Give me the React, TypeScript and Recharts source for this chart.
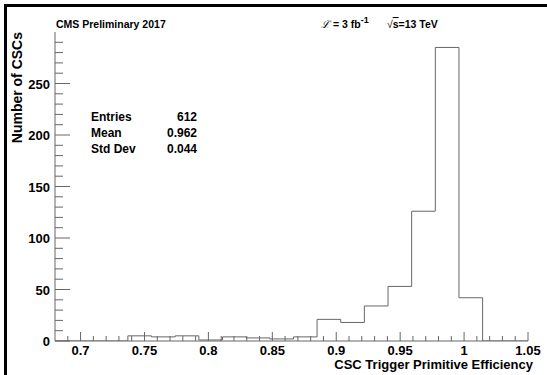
import React from "react";
import { ComposedChart, Line, XAxis, YAxis } from "recharts";

// histogram bins (left edges) and counts
const binEdges = [
  0.737, 0.7555, 0.774, 0.7925, 0.811, 0.8295, 0.848, 0.8665, 0.885, 0.9035,
  0.922, 0.9405, 0.959, 0.9775, 0.996, 1.0145,
];
const binCounts = [5, 4, 5, 1, 4, 3, 2, 4, 21, 18, 34, 53, 126, 285, 42];

const xMajorTicks = [0.7, 0.75, 0.8, 0.85, 0.9, 0.95, 1, 1.05];
const yMajorTicks = [0, 50, 100, 150, 200, 250];

const stats = [
  { name: "Entries", value: "612" },
  { name: "Mean", value: "0.962" },
  { name: "Std Dev", value: "0.044" },
];

const FONT = "'Liberation Sans', Arial, Helvetica, sans-serif";
const LINE = "#666";

const xTicks: number[] = [];
for (let i = 69; i <= 105; i++) xTicks.push(i / 100);
const yTicks: number[] = [];
for (let v = 0; v <= 290; v += 10) yTicks.push(v);

const data = [
  { x: 0.68, y: 0 },
  ...binEdges.map((e, i) => ({ x: e, y: binCounts[i] ?? 0 })),
  { x: 1.05, y: 0 },
];

const isMajorX = (v: number) => xMajorTicks.some((m) => Math.abs(m - v) < 1e-6);

const XTick = (props: any) => {
  const { x, y, payload } = props;
  const major = isMajorX(payload.value);
  return (
    <g>
      <line x1={x} x2={x} y1={y} y2={y - (major ? 9 : 5)} stroke={LINE} />
      {major && (
        <text x={x} y={y + 14} textAnchor="middle" fontFamily={FONT} fontWeight="bold" fontSize={13} fill="#000">
          {payload.value}
        </text>
      )}
    </g>
  );
};

const YTick = (props: any) => {
  const { x, y, payload } = props;
  const major = yMajorTicks.includes(payload.value);
  return (
    <g>
      <line x1={x} x2={x + (major ? 15 : 8)} y1={y} y2={y} stroke={LINE} />
      {major && (
        <text x={x - 5} y={y + 5} textAnchor="end" fontFamily={FONT} fontWeight="bold" fontSize={13} fill="#000">
          {payload.value}
        </text>
      )}
    </g>
  );
};

export default function App() {
  return (
    <div style={{ position: "relative", width: 547, height: 375, background: "#fff", overflow: "hidden" }}>
      <style>{`body{margin:0}`}</style>
      <ComposedChart width={547} height={375} data={data} margin={{ top: 32, right: 19, left: 0, bottom: 0 }}>
        <XAxis
          type="number"
          dataKey="x"
          domain={[0.68, 1.05]}
          ticks={xTicks}
          interval={0}
          height={34}
          tickSize={0}
          tickMargin={0}
          tickLine={false}
          axisLine={{ stroke: LINE }}
          tick={<XTick />}
          allowDataOverflow
        />
        <YAxis
          type="number"
          domain={[0, 300]}
          ticks={yTicks}
          interval={0}
          width={55}
          tickSize={0}
          tickMargin={0}
          tickLine={false}
          axisLine={{ stroke: LINE }}
          tick={<YTick />}
          allowDataOverflow
        />
        <Line
          type="stepAfter"
          dataKey="y"
          stroke={LINE}
          strokeWidth={1}
          dot={false}
          activeDot={false}
          isAnimationActive={false}
        />
      </ComposedChart>
      <svg width={547} height={375} style={{ position: "absolute", left: 0, top: 0, pointerEvents: "none" }}>
        <line x1={4} x2={547} y1={5.5} y2={5.5} stroke="#000" strokeWidth={3} />
        <line x1={5.5} x2={5.5} y1={4} y2={375} stroke="#000" strokeWidth={3} />
        <text x={56} y={28} fontFamily={FONT} fontWeight="bold" fontSize={10.5} fill="#000">
          CMS Preliminary 2017
        </text>
        <text x={321} y={28} fontFamily={FONT} fontWeight="bold" fontSize={10.5} fill="#000">
          <tspan fontFamily="'DejaVu Serif', serif" fontStyle="italic" fontWeight="normal">ℒ</tspan>
          <tspan> = 3 fb</tspan>
          <tspan dy={-5} fontSize={9}>-1</tspan>
        </text>
        <text x={387} y={28} fontFamily={FONT} fontWeight="bold" fontSize={10.5} fill="#000">
          <tspan fontWeight="normal">√</tspan>
          <tspan textDecoration="overline">s</tspan>
          <tspan>=13 TeV</tspan>
        </text>
        {stats.map((s, i) => (
          <g key={s.name}>
            <text x={91} y={121 + i * 16} fontFamily={FONT} fontWeight="bold" fontSize={12} fill="#000">
              {s.name}
            </text>
            <text x={197} y={121 + i * 16} textAnchor="end" fontFamily={FONT} fontWeight="bold" fontSize={12} fill="#000">
              {s.value}
            </text>
          </g>
        ))}
        <text
          transform="translate(22,32) rotate(-90)"
          textAnchor="end"
          fontFamily={FONT}
          fontWeight="bold"
          fontSize={14}
          fill="#000"
        >
          Number of CSCs
        </text>
        <text x={533} y={369} textAnchor="end" fontFamily={FONT} fontWeight="bold" fontSize={13} fill="#000">
          CSC Trigger Primitive Efficiency
        </text>
      </svg>
    </div>
  );
}
